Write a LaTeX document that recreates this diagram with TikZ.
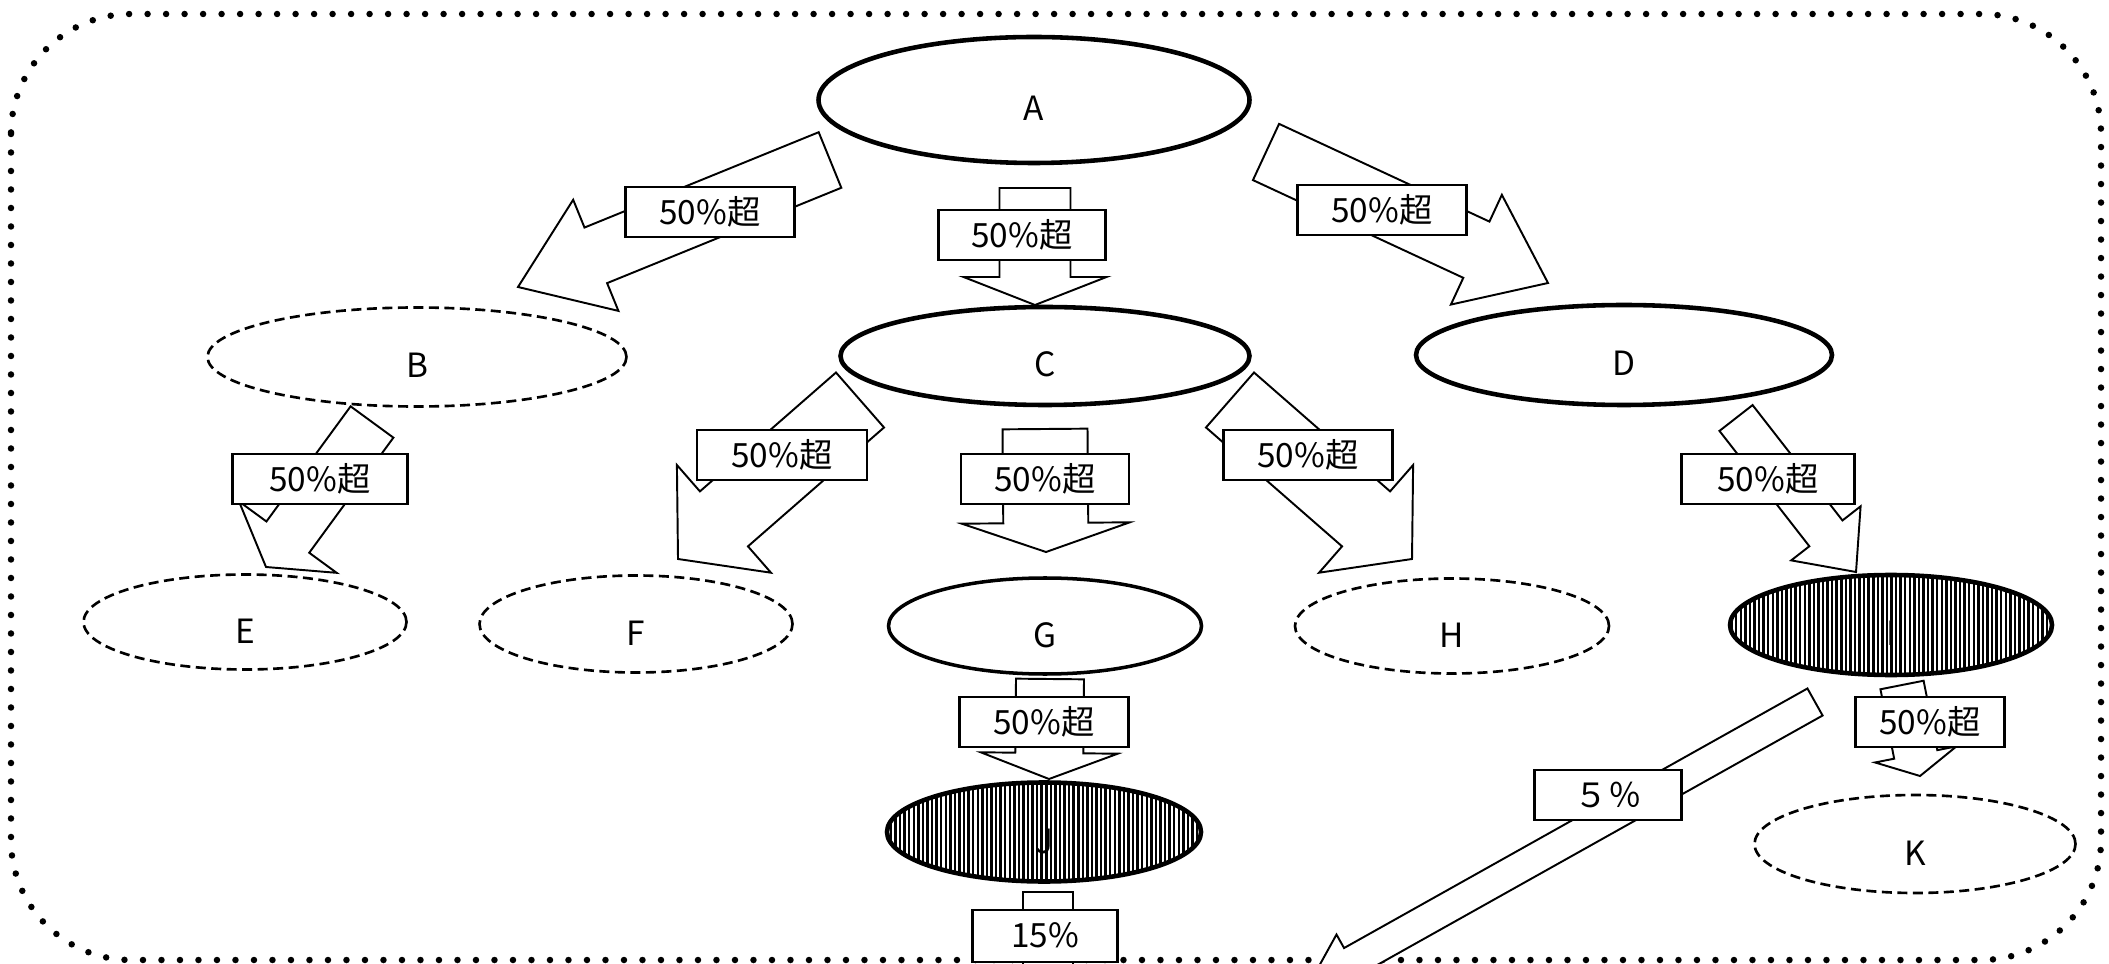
\documentclass[tikz,border=0pt]{standalone}
\usepackage{fontspec}
\setmainfont{Noto Sans CJK JP}
\usepackage{tikz}
\usetikzlibrary{calc,positioning,shapes.geometric,patterns.meta}
\tikzset{
  ell/.style = {ellipse, inner sep=0pt, text centered, text height=4.2mm, text depth=0pt,
  font=\fontsize{9.5}{11}\selectfont},
  ell_s/.style = {ell, draw, line width=1.3pt},
  ell_d/.style = {ell, draw, line width=0.75pt, dash pattern=on 1mm off 0.55mm},
  ell_h/.style = {ell, draw, line width=1.3pt, pattern={Lines[angle=90,distance=1.3pt,line width=0.7pt]}},
  box_r/.style = {draw, fill=white, line width=0.7pt, minimum width=16.9mm, minimum height=5mm,
  inner sep=0pt, font=\fontsize{9.5}{11}\selectfont},
  fat_a/.style = {draw, fill=white, line width=0.55pt, line join=miter},
  frame_d/.style = {line width=0.65mm, line cap=round, dash pattern=on 0pt off 1.85mm, rounded corners=12mm}
}
% tail, tip, half shaft, half head, head length
\newcommand\fatarrow[5]{%
  \path ($(#2)!#5!(#1)$) coordinate (fa_n);
  \draw[fat_a] ($(#1)!#3!90:(#2)$) -- ($(fa_n)!#3!90:(#2)$) -- ($(fa_n)!#4!90:(#2)$) -- (#2)
    -- ($(fa_n)!#4!-90:(#2)$) -- ($(fa_n)!#3!-90:(#2)$) -- ($(#1)!#3!-90:(#2)$) -- cycle;
}
\begin{document}
\begin{tikzpicture}[x=0.1mm, y=-0.1mm]
  \useasboundingbox (0,0) rectangle (2109,964);
  \clip (0,0) rectangle (2109,964);
  \draw[frame_d] (11,14) rectangle (2101,960);

  \node[ell_s, minimum width=43.1mm, minimum height=12.6mm] (A) at (1034,100) {A};
  \node[ell_d, minimum width=41.9mm, minimum height=9.9mm] (B) at (417,357) {B};
  \node[ell_s, minimum width=40.9mm, minimum height=9.8mm] (C) at (1045,356) {C};
  \node[ell_s, minimum width=41.6mm, minimum height=10mm] (D) at (1624,355) {D};
  \node[ell_d, minimum width=32.3mm, minimum height=9.5mm] (E) at (245,622) {E};
  \node[ell_d, minimum width=31.3mm, minimum height=9.7mm] (F) at (636,624) {F};
  \node[ell_s, line width=1pt, minimum width=31.3mm, minimum height=9.6mm] (G) at (1045,626) {G};
  \node[ell_d, minimum width=31.4mm, minimum height=9.5mm] (H) at (1452,626) {H};
  \node[ell_h, minimum width=32.2mm, minimum height=10mm] (I) at (1891,625) {I};
  \node[ell_h, minimum width=31.4mm, minimum height=9.9mm] (J) at (1044,832) {J};
  \node[ell_d, minimum width=32.1mm, minimum height=9.8mm] (K) at (1915,844) {K};

  \coordinate (ab_t) at ($(A)+(-204,60)$);  \coordinate (ab_h) at ($(B)+(101,-70)$);
  \coordinate (ac_t) at ($(A)+(1,88)$);     \coordinate (ac_h) at ($(C)+(-10,-51)$);
  \coordinate (ad_t) at ($(A)+(232,52)$);   \coordinate (ad_h) at ($(D)+(-76,-72)$);
  \coordinate (be_t) at ($(B)+(-45,65)$);   \coordinate (be_h) at ($(E)+(21,-55)$);
  \coordinate (cf_t) at ($(C)+(-185,44)$);  \coordinate (cf_h) at ($(F)+(42,-65)$);
  \coordinate (cg_t) at ($(C)+(0,73)$);     \coordinate (cg_h) at ($(G)+(1,-74)$);
  \coordinate (ch_t) at ($(C)+(185,44)$);   \coordinate (ch_h) at ($(H)+(-40,-67)$);
  \coordinate (di_t) at ($(D)+(112,63)$);   \coordinate (di_h) at ($(I)+(-35,-53)$);
  \coordinate (gj_t) at ($(G)+(5,53)$);     \coordinate (gj_h) at ($(J)+(5,-53)$);
  \coordinate (ik_t) at ($(I)+(11,60)$);    \coordinate (ik_h) at ($(K)+(5,-68)$);
  \coordinate (jx_t) at ($(J)+(4,60)$);     \coordinate (jx_h) at (1048,1040);
  \coordinate (ix_t) at ($(I)+(-76,77)$);   \coordinate (ix_h) at (1308,986);

  \fatarrow{ab_t}{ab_h}{3mm}{6mm}{8.4mm}
  \fatarrow{ac_t}{ac_h}{3.55mm}{7.15mm}{2.8mm}
  \fatarrow{ad_t}{ad_h}{3.1mm}{6.05mm}{7.9mm}
  \fatarrow{be_t}{be_h}{2.65mm}{6.05mm}{3.7mm}
  \fatarrow{cf_t}{cf_h}{3.65mm}{7.15mm}{6.1mm}
  \fatarrow{cg_t}{cg_h}{4.25mm}{8.4mm}{2.9mm}
  \fatarrow{ch_t}{ch_h}{3.65mm}{7.15mm}{6.1mm}
  \fatarrow{di_t}{di_h}{2.1mm}{4.4mm}{4.9mm}
  \fatarrow{gj_t}{gj_h}{3.4mm}{6.85mm}{2.6mm}
  \fatarrow{ik_t}{ik_h}{2.2mm}{4.15mm}{2.2mm}
  \fatarrow{jx_t}{jx_h}{2.5mm}{5mm}{3mm}
  \fatarrow{ix_t}{ix_h}{1.55mm}{3.1mm}{5mm}

  \node[box_r] (r_ab) at (710,212) {50\%超};
  \node[box_r, minimum width=16.7mm] (r_ac) at (1022,235) {50\%超};
  \node[box_r] (r_ad) at (1382,210) {50\%超};
  \node[box_r, minimum width=17.5mm] (r_be) at (320,479) {50\%超};
  \node[box_r, minimum width=17mm] (r_cf) at (782,455) {50\%超};
  \node[box_r, minimum width=16.8mm] (r_cg) at (1045,479) {50\%超};
  \node[box_r] (r_ch) at (1308,455) {50\%超};
  \node[box_r, minimum width=17.3mm] (r_di) at (1768,479) {50\%超};
  \node[box_r] (r_gj) at (1044,722) {50\%超};
  \node[box_r, minimum width=14.9mm] (r_ik) at (1930,722) {50\%超};
  \node[box_r, minimum width=14.5mm, minimum height=5.2mm, text depth=0.2mm] (r_jx) at (1045,936) {15\%};
  \node[box_r, minimum width=14.7mm] (r_ix) at (1608,795) {５％};
\end{tikzpicture}
\end{document}
